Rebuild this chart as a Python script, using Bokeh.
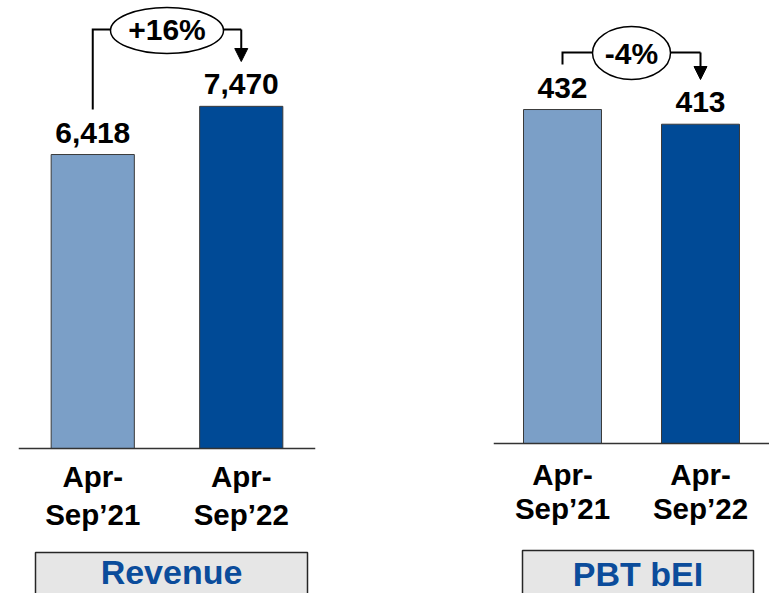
from bokeh.plotting import figure
from bokeh.layouts import row
from bokeh.models import Range1d, FactorRange, Span, Arrow, NormalHead
from bokeh.core.properties import value
from bokeh.embed import file_html
from bokeh.resources import INLINE

# ---- data ----
periods = ["Apr-Sep’21", "Apr-Sep’22"]
revenue = [6418, 7470]
pbt_bei = [432, 413]
revenue_labels = ["6,418", "7,470"]
pbt_labels = ["432", "413"]
revenue_change = "+16%"
pbt_change = "-4%"
panel_titles = ["Revenue", "PBT bEI"]
bar_colors = ["#7b9fc7", "#004a96"]

H = 593
FONT = "Liberation Sans"
TITLE_BLUE = "#0b4c9b"
SHIFT = -12  # renderer places alphabetic baseline lower than expected


def panel(values, labels, change, title, width, border_left, border_right,
          top_mult, bottom_mult, deco):
    vmax = max(values)
    y_top = vmax * top_mult
    y_bot = -vmax * bottom_mult
    frame_w = width - border_left - border_right

    def py(p):  # pixel row -> data y
        return y_top - p * (y_top - y_bot) / H

    def px(p):  # pixel column -> synthetic x
        return (p - border_left - deco["x0"]) / (frame_w / len(values))

    p = figure(width=width, height=H, x_range=FactorRange(*periods, range_padding=0),
               y_range=Range1d(y_bot, y_top), output_backend="svg",
               toolbar_location=None, x_axis_location=None, y_axis_location=None,
               min_border_left=border_left, min_border_right=border_right,
               min_border_top=0, min_border_bottom=0)
    p.grid.visible = False
    p.outline_line_color = None
    p.background_fill_color = "white"
    p.border_fill_color = "white"

    p.vbar(x=periods, top=values, bottom=0, width=deco["bar_w"], fill_color=bar_colors,
           line_color="#3a3a3a", line_width=1)
    p.add_layout(Span(location=0, dimension="width", line_color="#333333", line_width=1.5))

    tf = value(FONT)
    p.text(x=periods, y=values, text=labels, text_font=tf, text_font_style="bold",
           text_font_size="30px", text_align="center", text_baseline="alphabetic",
           y_offset=-10 + SHIFT, text_color="black")

    # category labels (two lines)
    line1 = [c.split("-")[0] + "-" for c in periods]
    line2 = [c.split("-")[1] for c in periods]
    p.text(x=periods, y=[0, 0], text=line1, text_font=tf, text_font_style="bold",
           text_font_size="29.5px", text_align="center", text_baseline="alphabetic",
           y_offset=deco["cat1"] + SHIFT, text_color="black")
    p.text(x=periods, y=[0, 0], text=line2, text_font=tf, text_font_style="bold",
           text_font_size="29.5px", text_align="center", text_baseline="alphabetic",
           y_offset=deco["cat2"] + SHIFT, text_color="black")

    # change bracket
    x1, x2, xm = 0.5, 1.5, 1.0
    p.line(x=[x1, x1, x2, x2], y=[py(deco["br_start"]), py(deco["br_y"]),
                                 py(deco["br_y"]), py(deco["br_y"])],
           line_color="black", line_width=2, line_join="miter")
    p.add_layout(Arrow(end=NormalHead(size=13, fill_color="black", line_color="black",
                                      line_width=1),
                       x_start=x2, y_start=py(deco["br_y"]), x_end=x2,
                       y_end=py(deco["tip"]), line_color="black", line_width=2))
    p.ellipse(x=[xm], y=[py(deco["el_y"])], width=deco["el_w"], height=deco["el_h"],
              width_units="screen", height_units="screen", fill_color="white",
              line_color="black", line_width=1.5)
    p.text(x=[xm], y=[py(deco["pct_base"] + SHIFT)], text=[change], text_font=tf,
           text_font_style="bold", text_font_size="30px", text_align="center",
           text_baseline="alphabetic", text_color="black")

    # title box
    p.quad(left=[px(deco["box_l"])], right=[px(deco["box_r"])], top=[py(deco["box_t"])],
           bottom=[py(H + 20)], fill_color="#e6e6e6", line_color="#262626", line_width=1.5)
    p.text(x=[px((deco["box_l"] + deco["box_r"]) / 2)],
           y=[py(deco["title_base"] + SHIFT)],
           text=[title], text_font=tf, text_font_style="bold", text_font_size="34px",
           text_align="center", text_baseline="alphabetic", text_color=TITLE_BLUE)
    return p


left_deco = dict(x0=0, bar_w=0.56, cat1=40, cat2=78, br_start=109, br_y=29, tip=61,
                 el_y=30, el_w=113, el_h=46, pct_base=41, box_l=35, box_r=307,
                 box_t=552, title_base=583)
right_deco = dict(x0=400, bar_w=0.565, cat1=43, cat2=77, br_start=64, br_y=52, tip=79,
                  el_y=52.5, el_w=78, el_h=53, pct_base=65, box_l=522, box_r=753,
                  box_t=550, title_base=585)

p1 = panel(revenue, revenue_labels, revenue_change, panel_titles[0], 400, 18, 85,
           1.3093, 0.4237, left_deco)
p2 = panel(pbt_bei, pbt_labels, pbt_change, panel_titles[1], 369, 93, 0,
           1.3264, 0.4490, right_deco)

layout = row(p1, p2, spacing=0)
open("out.html", "w").write(file_html(layout, INLINE))
